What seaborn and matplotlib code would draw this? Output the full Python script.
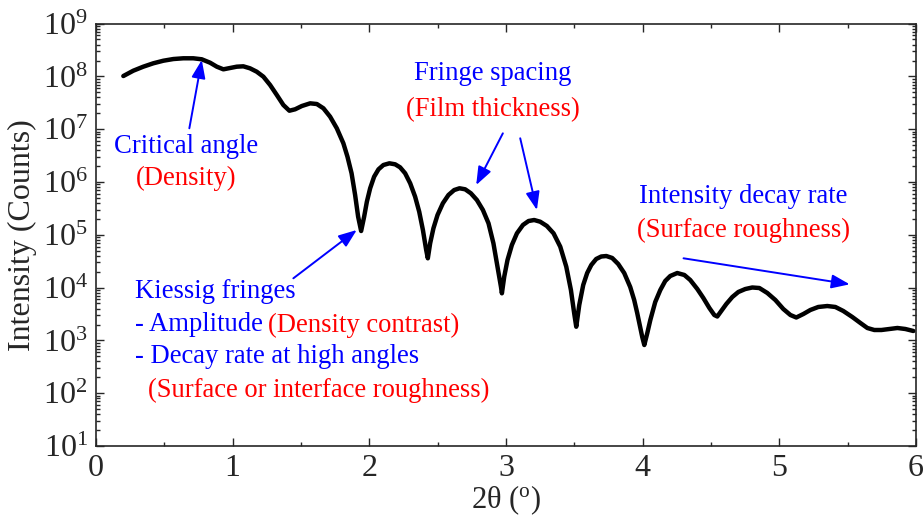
import numpy as np
import pandas as pd
import matplotlib
matplotlib.use("Agg")
import matplotlib.pyplot as plt
import matplotlib.ticker as mticker
import seaborn as sns

# ---- data ----
two_theta = [
    0.200, 0.273, 0.346, 0.419, 0.493, 0.566, 0.639, 0.712, 0.774, 0.835,
    0.884, 0.932, 0.981, 1.030, 1.078, 1.127, 1.176, 1.225, 1.274, 1.323,
    1.371, 1.415, 1.457, 1.506, 1.567, 1.616, 1.664, 1.713, 1.762, 1.810,
    1.840, 1.870, 1.896, 1.918, 1.940,
    1.962, 1.982, 2.006, 2.035, 2.067, 2.103, 2.147, 2.189, 2.225, 2.262,
    2.299, 2.335, 2.365, 2.392, 2.416, 2.428,
    2.445, 2.469, 2.499, 2.538, 2.579, 2.621, 2.660, 2.701, 2.743, 2.787,
    2.831, 2.872, 2.908, 2.938, 2.963, 2.970,
    2.987, 3.011, 3.043, 3.080, 3.124, 3.165, 3.206, 3.250, 3.299, 3.348,
    3.397, 3.441, 3.475, 3.499, 3.514,
    3.536, 3.565, 3.594, 3.624, 3.660, 3.697, 3.734, 3.777, 3.821, 3.865,
    3.909, 3.938, 3.960, 3.982, 3.997, 4.012,
    4.034, 4.056, 4.092, 4.129, 4.165, 4.202, 4.253, 4.305, 4.348, 4.400,
    4.444, 4.488, 4.524, 4.546,
    4.575, 4.612, 4.656, 4.700, 4.751, 4.802, 4.854, 4.912, 4.971, 5.029,
    5.081, 5.124,
    5.176, 5.227, 5.285, 5.351, 5.410, 5.468, 5.534, 5.593, 5.644, 5.695,
    5.747, 5.805, 5.864, 5.922, 5.981]
log10_intensity = [
    8.007, 8.108, 8.184, 8.248, 8.297, 8.329, 8.343, 8.343, 8.324, 8.259,
    8.184, 8.134, 8.159, 8.184, 8.191, 8.153, 8.089, 7.994, 7.837, 7.648,
    7.458, 7.350, 7.377, 7.439, 7.490, 7.477, 7.396, 7.237, 7.017, 6.733,
    6.479, 6.165, 5.754, 5.343, 5.072,
    5.343, 5.627, 5.881, 6.100, 6.240, 6.322, 6.354, 6.335, 6.278, 6.165,
    5.975, 5.722, 5.437, 5.091, 4.712, 4.555,
    4.839, 5.123, 5.375, 5.597, 5.754, 5.848, 5.881, 5.862, 5.786, 5.659,
    5.470, 5.218, 4.839, 4.396, 4.017, 3.892,
    4.206, 4.523, 4.807, 5.028, 5.186, 5.261, 5.280, 5.248, 5.167, 5.028,
    4.775, 4.396, 3.954, 3.513, 3.259,
    3.670, 4.049, 4.276, 4.428, 4.542, 4.589, 4.598, 4.561, 4.447, 4.276,
    4.011, 3.765, 3.519, 3.254, 3.064, 2.913,
    3.140, 3.386, 3.727, 3.954, 4.125, 4.220, 4.276, 4.239, 4.144, 3.973,
    3.803, 3.614, 3.481, 3.453,
    3.557, 3.689, 3.822, 3.917, 3.973, 4.002, 3.992, 3.898, 3.765, 3.595,
    3.481, 3.434,
    3.500, 3.576, 3.633, 3.651, 3.633, 3.557, 3.443, 3.330, 3.235, 3.197,
    3.197, 3.216, 3.235, 3.216, 3.178]
x_ticks = [0, 1, 2, 3, 4, 5, 6]

df = pd.DataFrame({"two_theta": two_theta,
                   "intensity": np.power(10.0, log10_intensity)})

sns.set_style("ticks")
plt.rcParams["font.family"] = ["Liberation Serif", "DejaVu Serif"]
plt.rcParams["mathtext.fontset"] = "custom"
plt.rcParams["mathtext.rm"] = "Liberation Serif"
plt.rcParams["mathtext.it"] = "Liberation Serif:italic"
plt.rcParams["mathtext.bf"] = "Liberation Serif:bold"

fig = plt.figure(figsize=(9.24, 5.19), dpi=100)
ax = fig.add_axes([96 / 924, 1 - 446 / 519, 820 / 924, (446 - 23.6) / 519])

sns.lineplot(data=df, x="two_theta", y="intensity", ax=ax, color="black",
             linewidth=3.2, sort=False, estimator=None)
for ln in ax.lines:
    ln.set_solid_joinstyle("round")
    ln.set_solid_capstyle("round")

ax.set_yscale("log")
ax.set_xlim(0, 6)
ax.set_ylim(1e1, 1e9)
ax.set_xticks(x_ticks)
ax.xaxis.set_minor_locator(mticker.MultipleLocator(0.5))
ax.yaxis.set_major_locator(mticker.LogLocator(base=10, numticks=20))
ax.yaxis.set_minor_locator(mticker.LogLocator(base=10, subs=np.arange(2, 10), numticks=200))
ax.yaxis.set_minor_formatter(mticker.NullFormatter())

ax.tick_params(which="both", direction="in", top=True, right=True, width=1.0)
ax.tick_params(which="major", length=6, labelsize=23, pad=6)
ax.tick_params(which="minor", length=3)
for s in ax.spines.values():
    s.set_linewidth(1.2)
    s.set_visible(True)

ax.set_xlabel(r"2θ ($^{\rm o}$)", fontsize=22, labelpad=0)
ax.set_ylabel("Intensity (Counts)", fontsize=23, labelpad=4)

blue = "#0000ff"
red = "#ff0000"
fs = 19.2
aprops = dict(arrowstyle="-|>,head_length=1.1,head_width=0.42", color=blue,
              lw=1.4, shrinkA=0, shrinkB=0)

# Critical angle
ax.text(0.659, 10**6.669, "Critical angle", color=blue, fontsize=fs, ha="center", va="center")
ax.text(0.659, 10**6.076, "(Density)", color=red, fontsize=fs, ha="center", va="center")
ax.annotate("", xy=(0.774, 10**8.311), xytext=(0.683, 10**7.017), arrowprops=aprops)

# Fringe spacing
ax.text(2.906, 10**8.064, "Fringe spacing", color=blue, fontsize=fs, ha="center", va="center")
ax.text(2.906, 10**7.364, "(Film thickness)", color=red, fontsize=fs, ha="center", va="center")
ax.annotate("", xy=(2.782, 10**5.943), xytext=(2.977, 10**6.922), arrowprops=aprops)
ax.annotate("", xy=(3.226, 10**5.470), xytext=(3.104, 10**6.828), arrowprops=aprops)

# Intensity decay rate
ax.text(4.737, 10**5.722, "Intensity decay rate", color=blue, fontsize=fs, ha="center", va="center")
ax.text(4.737, 10**5.091, "(Surface roughness)", color=red, fontsize=fs, ha="center", va="center")
ax.annotate("", xy=(5.515, 10**4.062), xytext=(4.299, 10**4.555), arrowprops=aprops)

# Kiessig fringes
ax.annotate("", xy=(1.908, 10**5.091), xytext=(1.444, 10**4.176), arrowprops=aprops)
ax.text(0.286, 10**3.922, "Kiessig fringes", color=blue, fontsize=fs, ha="left", va="center")
ax.text(0.286, 10**3.292, "- Amplitude", color=blue, fontsize=fs, ha="left", va="center")
ax.text(1.262, 10**3.292, "(Density contrast)", color=red, fontsize=fs, ha="left", va="center")
ax.text(0.286, 10**2.691, "- Decay rate at high angles", color=blue, fontsize=fs, ha="left", va="center")
ax.text(0.378, 10**2.061, "(Surface or interface roughness)", color=red, fontsize=fs, ha="left", va="center")

fig.savefig("out.png", dpi=100)
